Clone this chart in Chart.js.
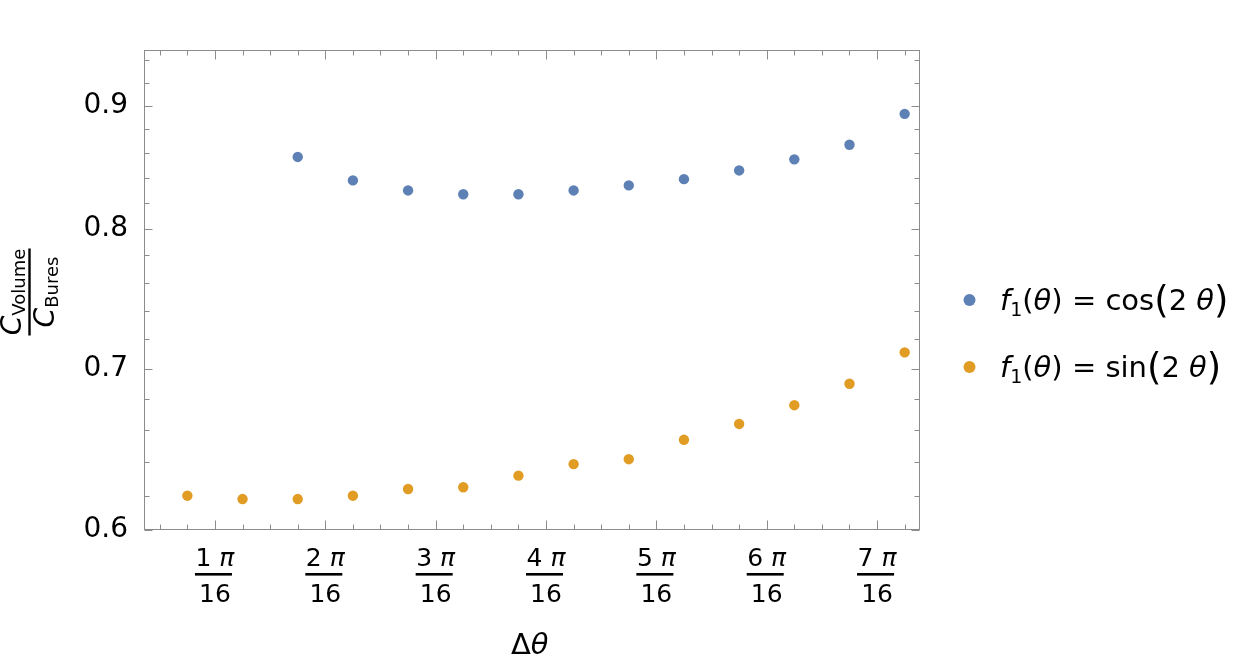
<!DOCTYPE html>
<html>
<head>
<meta charset="utf-8">
<script src="https://cdn.jsdelivr.net/npm/chart.js@4.4.1/dist/chart.umd.min.js"></script>
<style>
  html, body { margin: 0; padding: 0; background: #fff; }
  #wrap { width: 1246px; height: 666px; position: relative; }
</style>
</head>
<body>
<div id="wrap"><canvas id="myChart"></canvas></div>
<script>
// x values are in units of pi/16
const xCos = [1.75, 2.25, 2.75, 3.25, 3.75, 4.25, 4.75, 5.25, 5.75, 6.25, 6.75, 7.25];
const yCos = [0.857, 0.838, 0.830, 0.827, 0.827, 0.830, 0.834, 0.839, 0.846, 0.855, 0.867, 0.893];
const xSin = [0.75, 1.25, 1.75, 2.25, 2.75, 3.25, 3.75, 4.25, 4.75, 5.25, 5.75, 6.25, 6.75, 7.25];
const ySin = [0.620, 0.618, 0.618, 0.620, 0.624, 0.625, 0.632, 0.639, 0.642, 0.654, 0.664, 0.676, 0.690, 0.711];

const xTicks = [1, 2, 3, 4, 5, 6, 7];
const xMinorTicks = [0.5, 0.75, 1.25, 1.5, 1.75, 2.25, 2.5, 2.75, 3.25, 3.5, 3.75, 4.25, 4.5, 4.75,
                     5.25, 5.5, 5.75, 6.25, 6.5, 6.75, 7.25];
const yTicks = [0.6, 0.7, 0.8, 0.9];
const yMinorTicks = [0.62, 0.64, 0.66, 0.68, 0.72, 0.74, 0.76, 0.78, 0.82, 0.84, 0.86, 0.88, 0.92, 0.94];

const blue = '#5E81B5';
const orange = '#E19C24';
const frameColor = '#8c8c8c';
const FONT = '"DejaVu Sans", sans-serif';

function toPoints(xs, ys) {
    return xs.map((x, i) => ({ x: x, y: ys[i] }));
}

function runsWidth(ctx, runs) {
    return runs.reduce((s, r) => { ctx.font = r.font; return s + ctx.measureText(r.t).width + (r.gap || 0); }, 0);
}

// draw a row of text pieces left to right
function drawRuns(ctx, x, y, runs) {
    runs.forEach(r => {
        ctx.font = r.font;
        ctx.fillText(r.t, x, y + (r.dy || 0));
        x += ctx.measureText(r.t).width + (r.gap || 0);
    });
    return x;
}

const framePlugin = {
    id: 'frame',
    beforeDatasetsDraw(chart) {
        const { ctx, chartArea: a, scales } = chart;
        const L = Math.round(a.left) + 0.5, R = Math.round(a.right) - 0.5;
        const T = Math.round(a.top) + 0.5, B = Math.round(a.bottom) - 0.5;
        ctx.save();
        ctx.strokeStyle = frameColor;
        ctx.lineWidth = 1;
        ctx.strokeRect(L, T, R - L, B - T);
        ctx.beginPath();
        const xt = (v, len) => {
            const p = Math.round(scales.x.getPixelForValue(v)) + 0.5;
            ctx.moveTo(p, B); ctx.lineTo(p, B - len);
            ctx.moveTo(p, T); ctx.lineTo(p, T + len);
        };
        const yt = (v, len) => {
            const p = Math.round(scales.y.getPixelForValue(v)) + 0.5;
            ctx.moveTo(L, p); ctx.lineTo(L + len, p);
            ctx.moveTo(R, p); ctx.lineTo(R - len, p);
        };
        xTicks.forEach(v => xt(v, 9));
        xMinorTicks.forEach(v => xt(v, 5));
        yTicks.forEach(v => yt(v, 8));
        yMinorTicks.forEach(v => yt(v, 5));
        ctx.stroke();
        ctx.restore();
    },
    afterDraw(chart) {
        const { ctx, chartArea: a, scales } = chart;
        ctx.save();
        ctx.fillStyle = '#000';
        ctx.textBaseline = 'alphabetic';
        ctx.textAlign = 'left';

        // x tick labels as fractions k π / 16
        xTicks.forEach(v => {
            const p = scales.x.getPixelForValue(v);
            const num = [
                { t: v + ' ', font: '25px ' + FONT },
                { t: 'π', font: 'italic 25px ' + FONT }
            ];
            drawRuns(ctx, p - runsWidth(ctx, num) / 2, a.bottom + 35.5, num);
            ctx.fillRect(p - 20, a.bottom + 43, 37, 2.6);
            const den = [{ t: '16', font: '25px ' + FONT }];
            drawRuns(ctx, p - runsWidth(ctx, den) / 2, a.bottom + 72, den);
        });

        // x axis title
        drawRuns(ctx, 511, 654, [
            { t: 'Δ', font: '29px ' + FONT },
            { t: 'θ', font: 'italic 29px ' + FONT }
        ]);

        // y axis title, a fraction turned on its side
        ctx.save();
        ctx.translate(29.5, 292);
        ctx.rotate(-Math.PI / 2);
        ctx.fillRect(-43.5, -1.2, 87, 2.4);
        const num = [
            { t: 'C', font: 'italic 28px ' + FONT },
            { t: 'Volume', font: '18px ' + FONT, dy: 4 }
        ];
        const den = [
            { t: 'C', font: 'italic 28px ' + FONT },
            { t: 'Bures', font: '18px ' + FONT, dy: 4 }
        ];
        drawRuns(ctx, -runsWidth(ctx, num) / 2, -9, num);
        drawRuns(ctx, -runsWidth(ctx, den) / 2, 24, den);
        ctx.restore();

        // legend
        const rows = [
            { color: blue, y: 300, fn: 'cos' },
            { color: orange, y: 367, fn: 'sin' }
        ];
        rows.forEach(r => {
            ctx.fillStyle = r.color;
            ctx.beginPath();
            ctx.arc(969.5, r.y, 6, 0, Math.PI * 2);
            ctx.fill();
            ctx.fillStyle = '#000';
            drawRuns(ctx, 1000, r.y + 9.5, [
                { t: 'f', font: 'italic 29px ' + FONT },
                { t: '1', font: '19px ' + FONT, dy: 6 },
                { t: '(', font: '29px ' + FONT },
                { t: 'θ', font: 'italic 29px ' + FONT },
                { t: ')', font: '29px ' + FONT },
                { t: ' = ', font: '29px ' + FONT },
                { t: r.fn, font: '29px ' + FONT },
                { t: '(', font: '37px ' + FONT, dy: 3 },
                { t: '2 ', font: '29px ' + FONT },
                { t: 'θ', font: 'italic 29px ' + FONT },
                { t: ')', font: '37px ' + FONT, dy: 3 }
            ]);
        });
        ctx.restore();
    }
};

const ctx = document.getElementById('myChart').getContext('2d');
const myChart = new Chart(ctx, {
    type: 'scatter',
    data: {
        datasets: [{
            label: 'f1(θ) = cos(2 θ)',
            data: toPoints(xCos, yCos),
            backgroundColor: blue,
            borderColor: blue,
            borderWidth: 0,
            pointRadius: 5.2,
            pointHoverRadius: 5.2
        }, {
            label: 'f1(θ) = sin(2 θ)',
            data: toPoints(xSin, ySin),
            backgroundColor: orange,
            borderColor: orange,
            borderWidth: 0,
            pointRadius: 5.2,
            pointHoverRadius: 5.2
        }]
    },
    options: {
        responsive: true,
        maintainAspectRatio: false,
        animation: false,
        layout: { padding: { top: 50, right: 326, bottom: 0, left: 0 } },
        plugins: { legend: { display: false }, tooltip: { enabled: false } },
        scales: {
            x: {
                type: 'linear',
                min: 0.357,
                max: 7.389,
                grid: { display: false },
                border: { display: false },
                afterBuildTicks: scale => { scale.ticks = xTicks.map(v => ({ value: v })); },
                afterFit: scale => { scale.height = 136; },
                ticks: { display: false }
            },
            y: {
                type: 'logarithmic',
                min: 0.6,
                max: 0.9492,
                grid: { display: false },
                border: { display: false },
                afterBuildTicks: scale => { scale.ticks = yTicks.map(v => ({ value: v })); },
                afterFit: scale => { scale.width = 144; },
                ticks: {
                    color: '#000',
                    font: { family: FONT, size: 28 },
                    padding: 8,
                    callback: v => v.toFixed(1)
                }
            }
        }
    },
    plugins: [framePlugin]
});
</script>
</body>
</html>
